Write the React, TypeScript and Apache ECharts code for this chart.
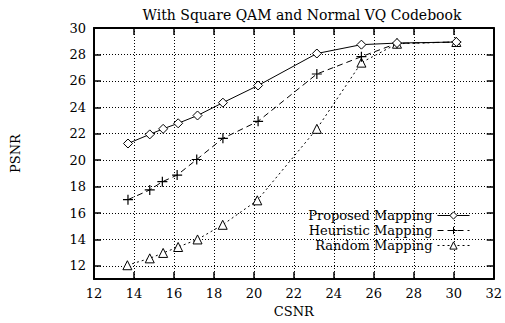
import React, { useEffect, useRef } from "react";
import * as echarts from "echarts";

const titleText = "With Square QAM and Normal VQ Codebook";
const xTicks = [12, 14, 16, 18, 20, 22, 24, 26, 28, 30, 32];
const yTicks = [12, 14, 16, 18, 20, 22, 24, 26, 28, 30];

const proposedX = [13.7, 14.79, 15.46, 16.21, 17.18, 18.45, 20.21, 23.15, 25.38, 27.16, 30.13];
const proposedY = [21.26, 21.95, 22.37, 22.79, 23.38, 24.35, 25.65, 28.07, 28.74, 28.86, 28.94];

const heuristicX = [13.7, 14.79, 15.42, 16.16, 17.14, 18.45, 20.21, 23.15, 25.38, 27.16, 30.13];
const heuristicY = [17.01, 17.75, 18.37, 18.87, 20.05, 21.65, 22.94, 26.52, 27.83, 28.84, 28.94];

const randomX = [13.67, 14.79, 15.46, 16.21, 17.18, 18.44, 20.17, 23.15, 25.38, 27.16, 30.13];
const randomY = [12.05, 12.57, 12.98, 13.43, 14.0, 15.11, 16.96, 22.37, 27.38, 28.81, 28.94];

const seriesNames = ["Proposed Mapping", "Heuristic Mapping", "Random Mapping"];

const zip = (xs: number[], ys: number[]) => xs.map((x, i) => [x, ys[i]]);

const FONT = "DejaVu Serif";
const PLUS = "path://M5,0 L5,10 M0,5 L10,5";

export default function App() {
  const ref = useRef<HTMLDivElement>(null);
  useEffect(() => {
    if (!ref.current) return;
    const chart = echarts.init(ref.current, undefined, { renderer: "svg" });
    const axisCommon = {
      axisLine: { show: true, lineStyle: { color: "#000", width: 2 } },
      axisTick: { show: true, inside: true, length: 7, lineStyle: { color: "#000", width: 1.5 } },
    };
    chart.setOption({
      animation: false,
      backgroundColor: "#fff",
      title: {
        text: titleText,
        left: 297,
        textAlign: "center",
        top: 3,
        textStyle: { fontFamily: FONT, fontSize: 14, fontWeight: "normal", color: "#000" },
      },
      legend: {
        orient: "vertical",
        right: 30,
        top: 204,
        align: "right",
        itemGap: 2,
        itemWidth: 32,
        itemHeight: 9,
        textStyle: { fontFamily: FONT, fontSize: 13, color: "#000" },
        lineStyle: { width: 1 },
        itemStyle: { borderWidth: 1 },
        data: seriesNames,
      },
      grid: { left: 94, right: 6, top: 28, bottom: 40 },
      xAxis: [
        {
          type: "value",
          min: 12,
          max: 32,
          interval: 2,
          name: "CSNR",
          nameLocation: "middle",
          nameGap: 21,
          nameTextStyle: { fontFamily: FONT, fontSize: 13, color: "#000" },
          ...axisCommon,
          axisLabel: { fontFamily: FONT, fontSize: 13, color: "#000", margin: 8 },
          splitLine: { show: true, lineStyle: { color: "#000", type: [1, 2], width: 1 } },
        },
        {
          type: "value",
          position: "top",
          min: 12,
          max: 32,
          interval: 2,
          ...axisCommon,
          axisLabel: { show: false },
          splitLine: { show: false },
        },
      ],
      yAxis: [
        {
          type: "value",
          min: 11,
          max: 30,
          name: "PSNR",
          nameLocation: "middle",
          nameGap: 72,
          nameRotate: 90,
          nameTextStyle: { fontFamily: FONT, fontSize: 13, color: "#000" },
          ...axisCommon,
          axisTick: { ...axisCommon.axisTick, customValues: yTicks },
          axisLabel: { fontFamily: FONT, fontSize: 13, color: "#000", margin: 8, customValues: yTicks },
          splitLine: { show: true, lineStyle: { color: "#000", type: [1, 2], width: 1 } },
        },
        {
          type: "value",
          position: "right",
          min: 11,
          max: 30,
          ...axisCommon,
          axisTick: { ...axisCommon.axisTick, customValues: yTicks },
          axisLabel: { show: false, customValues: yTicks },
          splitLine: { show: false },
        },
      ],
      series: [
        {
          name: seriesNames[0],
          type: "line",
          data: zip(proposedX, proposedY),
          symbol: "diamond",
          symbolSize: 9,
          lineStyle: { color: "#000", width: 1, type: "solid" },
          itemStyle: { color: "#fff", borderColor: "#000", borderWidth: 1 },
          z: 5,
        },
        {
          name: seriesNames[1],
          type: "line",
          data: zip(heuristicX, heuristicY),
          symbol: PLUS,
          symbolSize: 10,
          lineStyle: { color: "#000", width: 1, type: [6, 4] },
          itemStyle: { color: "none", borderColor: "#000", borderWidth: 1.2 },
          z: 4,
        },
        {
          name: seriesNames[2],
          type: "line",
          data: zip(randomX, randomY),
          symbol: "triangle",
          symbolSize: 9,
          lineStyle: { color: "#000", width: 1, type: [2, 3] },
          itemStyle: { color: "#fff", borderColor: "#000", borderWidth: 1 },
          z: 3,
        },
      ],
    });
    return () => chart.dispose();
  }, []);
  return <div ref={ref} style={{ width: 505, height: 323, position: "absolute", left: 0, top: 0 }} />;
}
